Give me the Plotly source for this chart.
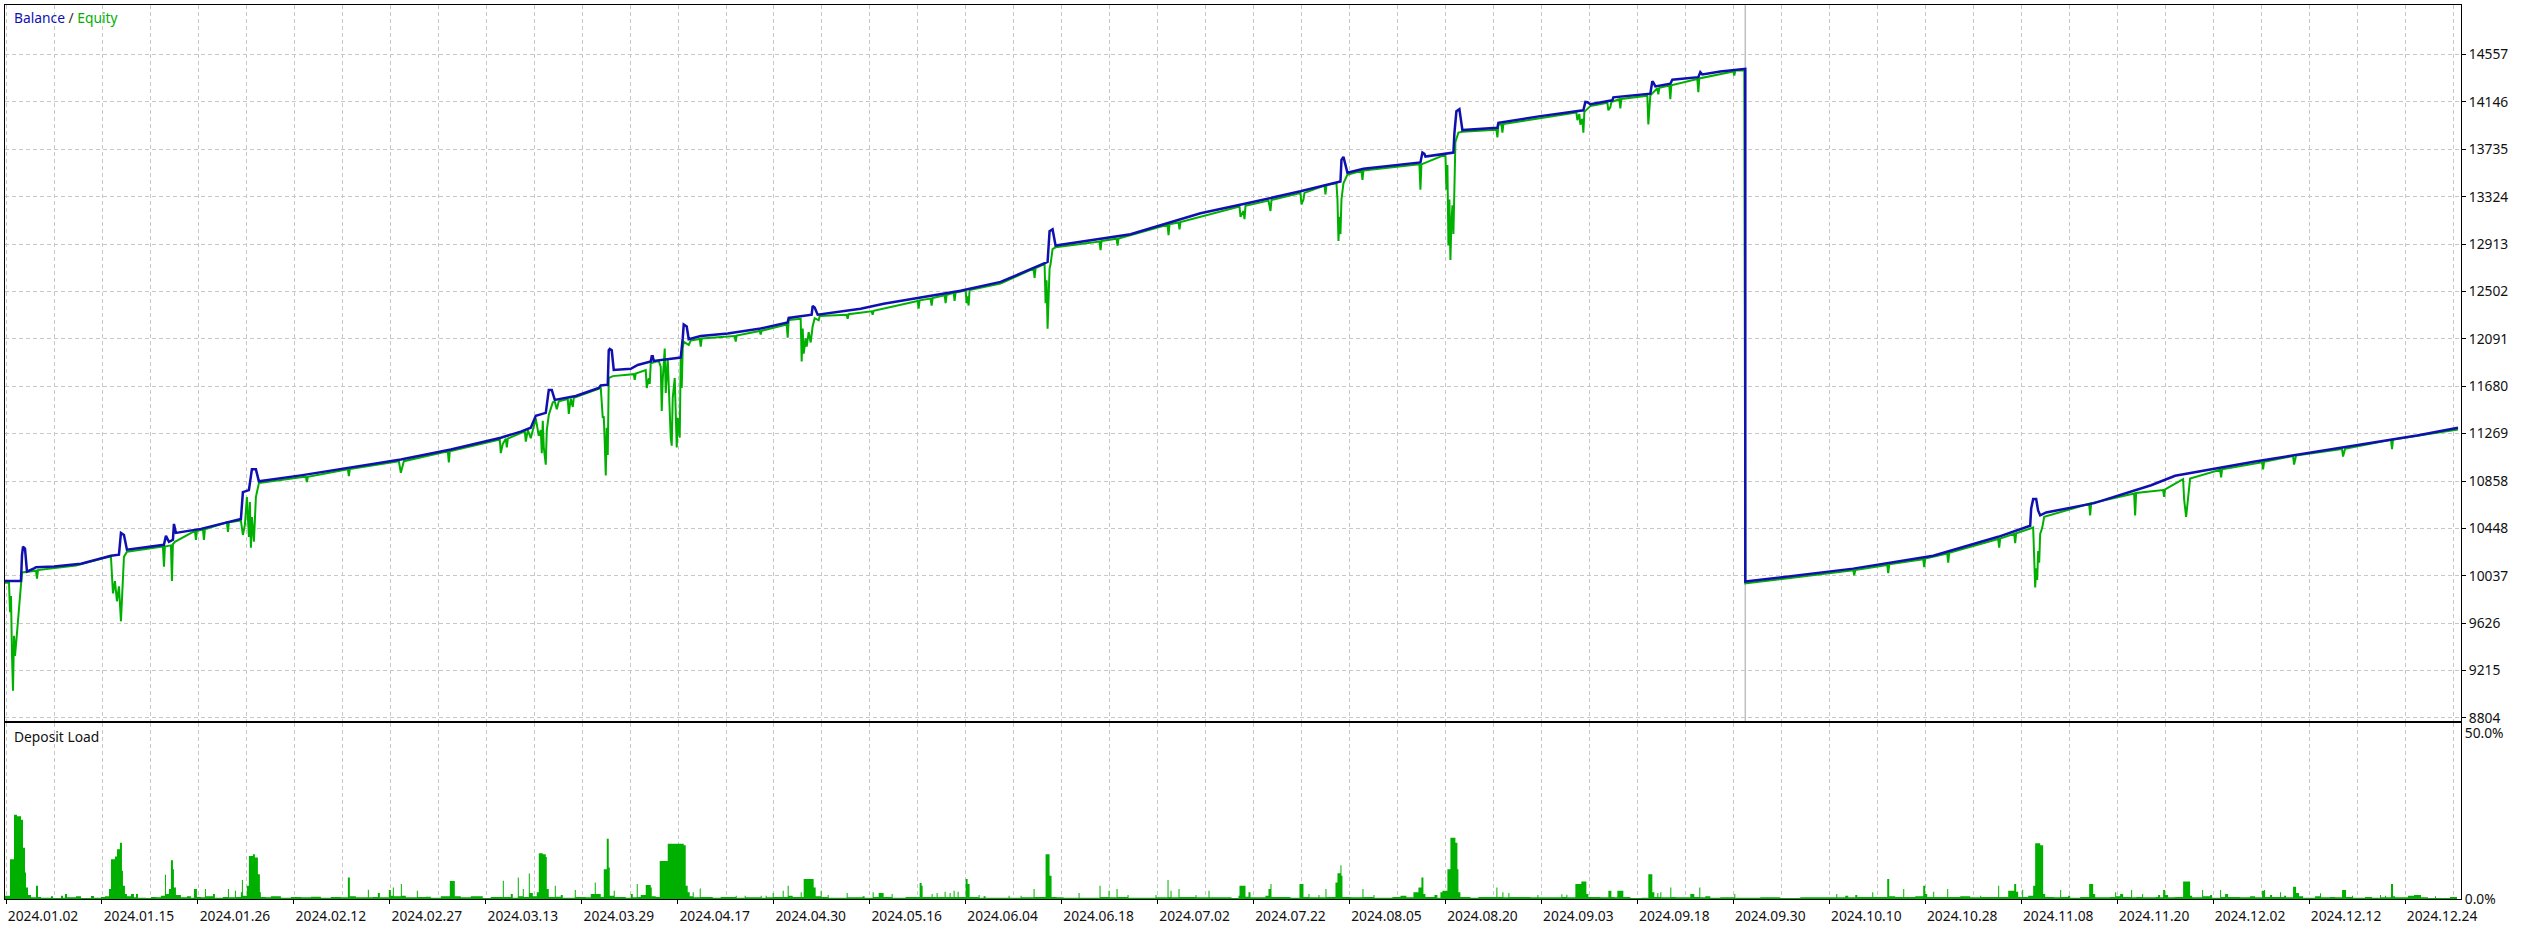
import plotly.graph_objects as go

# ---------------- data ----------------
# x axis: tester step index (dates are labels placed on it)
date_step = [5, 101, 197, 293, 389, 485, 581, 677, 773, 869, 965, 1061, 1157,
             1253, 1349, 1445, 1541, 1637, 1733, 1829, 1925, 2021, 2117, 2213, 2309, 2405]
date_text = ["2024.01.02", "2024.01.15", "2024.01.26", "2024.02.12", "2024.02.27",
             "2024.03.13", "2024.03.29", "2024.04.17", "2024.04.30", "2024.05.16",
             "2024.06.04", "2024.06.18", "2024.07.02", "2024.07.22", "2024.08.05",
             "2024.08.20", "2024.09.03", "2024.09.18", "2024.09.30", "2024.10.10",
             "2024.10.28", "2024.11.08", "2024.11.20", "2024.12.02", "2024.12.12",
             "2024.12.24"]

bal_ticks = [8804, 9215, 9626, 10037, 10448, 10858, 11269, 11680, 12091, 12502,
             12913, 13324, 13735, 14146, 14557]

balance_step = [4, 20, 21, 22, 24, 26, 33, 35, 53, 80, 110, 118, 120, 123, 126, 140, 163, 165,
                168, 172, 173, 175, 200, 240, 242, 248, 251, 255, 258, 300, 350, 400, 450, 500,
                520, 530, 535, 545, 548, 551, 554, 575, 598, 600, 607, 608, 609, 611, 613, 630,
                637, 650, 651, 652, 653, 680, 682, 683, 686, 688, 700, 727, 760, 787, 788, 811,
                812, 814, 817, 833, 860, 883, 913, 960, 1000, 1047, 1049, 1052, 1055, 1100, 1130,
                1160, 1200, 1250, 1300, 1340, 1341, 1343, 1345, 1347, 1363, 1390, 1420, 1422,
                1424, 1425, 1453, 1454, 1456, 1459, 1461, 1462, 1497, 1498, 1540, 1583, 1585,
                1587, 1590, 1612, 1613, 1650, 1652, 1653, 1655, 1670, 1672, 1698, 1700, 1702,
                1720, 1743, 1745, 1745, 1853, 1933, 1998, 2030, 2031, 2033, 2036, 2038, 2040,
                2046, 2094, 2151, 2175, 2255, 2336, 2417, 2458]
balance_val = [9990, 9990, 10213, 10288, 10272, 10073, 10101, 10110, 10116, 10141, 10210, 10219,
               10408, 10390, 10262, 10279, 10305, 10382, 10331, 10348, 10486, 10408, 10443, 10529,
               10762, 10779, 10959, 10959, 10856, 10907, 10976, 11045, 11131, 11234, 11286, 11320,
               11423, 11449, 11648, 11648, 11562, 11596, 11665, 11688, 11693, 11992, 12003, 11992,
               11822, 11831, 11865, 11894, 11940, 11940, 11900, 11929, 12095, 12215, 12198, 12089,
               12115, 12138, 12181, 12233, 12273, 12301, 12376, 12362, 12301, 12319, 12353, 12396,
               12439, 12508, 12585, 12758, 13025, 13042, 12900, 12955, 12998, 13076, 13180, 13274,
               13371, 13457, 13644, 13670, 13601, 13532, 13567, 13593, 13621, 13707, 13696, 13672,
               13707, 13876, 14065, 14083, 13945, 13902, 13922, 13965, 14023, 14074, 14146, 14143,
               14126, 14160, 14186, 14218, 14326, 14315, 14281, 14304, 14339, 14361, 14404, 14384,
               14410, 14433, 14433, 9986, 10098, 10210, 10374, 10470, 10620, 10701, 10701, 10600,
               10560, 10585, 10666, 10821, 10903, 11028, 11140, 11252, 11320]

equity_step = [4, 8, 9, 10, 11, 12, 13, 14, 16, 18, 19, 20, 21, 35, 36, 37, 75, 105, 110, 112, 114,
               116, 118, 120, 121, 123, 126, 160, 162, 163, 164, 170, 171, 172, 174, 194, 195, 196,
               202, 203, 204, 226, 227, 228, 240, 242, 244, 246, 248, 249, 250, 251, 253, 255, 258,
               300, 305, 306, 307, 347, 348, 349, 398, 400, 402, 403, 447, 448, 449, 499, 500, 502,
               505, 506, 507, 524, 525, 527, 530, 532, 535, 538, 540, 541, 542, 543, 545, 546, 548,
               552, 554, 556, 558, 567, 568, 570, 572, 573, 595, 600, 602, 603, 604, 605, 606, 607,
               608, 612, 633, 634, 635, 645, 646, 648, 649, 650, 658, 660, 661, 662, 664, 665, 667,
               669, 670, 671, 672, 674, 676, 677, 679, 680, 681, 682, 683, 688, 690, 699, 700, 701,
               734, 735, 736, 759, 760, 761, 786, 787, 788, 800, 801, 802, 803, 805, 806, 808, 810,
               812, 814, 818, 819, 846, 847, 848, 871, 872, 873, 917, 918, 919, 930, 931, 932, 944,
               945, 946, 953, 954, 955, 965, 966, 967, 968, 969, 1000, 1033, 1034, 1035, 1044, 1045,
               1046, 1047, 1048, 1049, 1050, 1052, 1055, 1099, 1100, 1101, 1116, 1117, 1118, 1167,
               1168, 1169, 1178, 1179, 1180, 1239, 1240, 1243, 1244, 1245, 1268, 1270, 1271, 1300,
               1301, 1303, 1304, 1324, 1325, 1326, 1336, 1337, 1338, 1339, 1340, 1341, 1343, 1347,
               1361, 1362, 1363, 1419, 1420, 1421, 1445, 1446, 1447, 1448, 1449, 1450, 1451, 1452,
               1453, 1454, 1455, 1458, 1462, 1496, 1497, 1498, 1501, 1502, 1503, 1576, 1577, 1579,
               1580, 1582, 1583, 1584, 1590, 1607, 1608, 1610, 1611, 1619, 1620, 1621, 1647, 1648,
               1649, 1650, 1657, 1658, 1659, 1669, 1670, 1671, 1697, 1698, 1699, 1733, 1734, 1735,
               1744, 1745, 1853, 1854, 1855, 1887, 1888, 1889, 1923, 1924, 1925, 1947, 1948, 1949,
               1998, 1999, 2000, 2014, 2015, 2016, 2033, 2034, 2035, 2036, 2037, 2038, 2039, 2040,
               2042, 2044, 2089, 2090, 2091, 2134, 2135, 2136, 2163, 2164, 2165, 2183, 2184, 2186,
               2188, 2190, 2220, 2221, 2222, 2262, 2263, 2264, 2293, 2294, 2296, 2342, 2343, 2345,
               2391, 2392, 2393, 2458]
equity_val = [9975, 9975, 9720, 9860, 9340, 9040, 9515, 9340, 9540, 9770, 9860, 9975, 10065, 10080,
              10012, 10085, 10125, 10195, 10200, 9883, 9990, 9815, 9945, 9641, 9860, 10200, 10245,
              10290, 10290, 10115, 10290, 10300, 9990, 10310, 10330, 10425, 10348, 10425, 10440,
              10348, 10440, 10500, 10417, 10500, 10515, 10390, 10480, 10719, 10373, 10676, 10280,
              10546, 10331, 10719, 10840, 10890, 10895, 10850, 10895, 10960, 10900, 10962, 11030,
              10930, 11000, 11030, 11115, 11020, 11117, 11218, 11100, 11180, 11225, 11150, 11226,
              11290, 11200, 11300, 11230, 11305, 11400, 11250, 11300, 11100, 11380, 11150, 11000,
              11300, 11430, 11540, 11545, 11480, 11550, 11570, 11440, 11575, 11500, 11580, 11650,
              11665, 11406, 11420, 11191, 10907, 11320, 11084, 11751, 11768, 11785, 11736, 11790,
              11820, 11665, 11750, 11700, 11880, 11900, 11850, 11466, 11742, 12007, 11622, 11920,
              11406, 11234, 11165, 11579, 11751, 11148, 11406, 11234, 11920, 11665, 12007, 12067,
              12037, 12077, 12090, 12024, 12095, 12115, 12067, 12120, 12160, 12130, 12162, 12215,
              12101, 12255, 12265, 11894, 12180, 11963, 12095, 12024, 12150, 12060, 12200, 12270,
              12252, 12290, 12300, 12265, 12305, 12330, 12300, 12335, 12420, 12353, 12425, 12440,
              12380, 12445, 12470, 12400, 12472, 12490, 12420, 12492, 12510, 12400, 12460, 12380,
              12515, 12570, 12700, 12620, 12705, 12740, 12400, 12600, 12180, 12500, 12700, 12740,
              12870, 12885, 12935, 12860, 12940, 12960, 12900, 12962, 13080, 12990, 13085, 13100,
              13040, 13105, 13240, 13150, 13200, 13130, 13245, 13290, 13200, 13295, 13355, 13257,
              13300, 13357, 13420, 13345, 13425, 13440, 13300, 12941, 13150, 13000, 13300, 13440,
              13515, 13550, 13471, 13552, 13605, 13385, 13605, 13690, 13385, 13600, 12900, 13300,
              12775, 13100, 13250, 13000, 13500, 13800, 13880, 13887, 13905, 13839, 13950, 13952,
              13880, 13955, 14055, 13988, 14040, 13950, 14000, 13879, 14060, 14110, 14140, 14074,
              14100, 14145, 14170, 14090, 14172, 14200, 13951, 14100, 14203, 14265, 14212, 14268,
              14288, 14169, 14290, 14345, 14230, 14350, 14410, 14376, 14418, 14418, 9970, 10083,
              10040, 10085, 10130, 10060, 10135, 10180, 10110, 10185, 10230, 10150, 10235, 10355,
              10280, 10360, 10400, 10320, 10405, 10455, 10200, 9935, 10100, 10000, 10250, 10150,
              10400, 10450, 10548, 10660, 10560, 10665, 10750, 10560, 10755, 10780, 10720, 10785,
              10875, 10700, 10546, 10750, 10880, 10955, 10890, 10960, 11020, 10960, 11025, 11075,
              11000, 11080, 11135, 11070, 11138, 11215, 11134, 11218, 11305]

load_step = [4, 9, 13, 16, 20, 22, 24, 25, 27, 30, 35, 37, 40, 50, 52, 60, 62, 64, 66, 75, 80, 90,
             93, 100, 104, 108, 110, 114, 116, 119, 121, 122, 124, 126, 130, 133, 135, 137, 145,
             150, 155, 160, 164, 165, 168, 170, 172, 173, 175, 180, 186, 190, 193, 196, 200, 204,
             205, 212, 214, 222, 227, 228, 234, 235, 240, 241, 242, 246, 248, 252, 254, 257, 259,
             260, 265, 270, 280, 290, 300, 310, 320, 330, 340, 347, 349, 355, 367, 368, 372, 377,
             379, 388, 390, 392, 393, 400, 401, 405, 416, 417, 425, 430, 440, 449, 454, 460, 470,
             482, 490, 502, 503, 510, 512, 517, 518, 522, 523, 528, 529, 532, 536, 538, 542, 545,
             546, 548, 554, 555, 560, 562, 574, 575, 585, 590, 594, 595, 600, 603, 606, 608, 609,
             613, 614, 625, 630, 632, 636, 637, 640, 645, 650, 651, 655, 659, 667, 683, 685, 687,
             689, 692, 693, 699, 700, 712, 720, 735, 736, 744, 745, 760, 761, 765, 766, 772, 773,
             782, 783, 787, 788, 792, 800, 801, 803, 813, 815, 820, 821, 827, 828, 846, 847, 862,
             864, 872, 873, 878, 883, 891, 892, 905, 919, 921, 922, 931, 932, 936, 937, 944, 945,
             949, 950, 953, 954, 957, 958, 965, 967, 969, 978, 979, 983, 985, 1008, 1009, 1020,
             1021, 1033, 1034, 1045, 1049, 1051, 1056, 1063, 1078, 1079, 1099, 1100, 1108, 1109,
             1116, 1117, 1127, 1128, 1155, 1156, 1167, 1168, 1170, 1171, 1178, 1179, 1195, 1196,
             1208, 1209, 1231, 1238, 1239, 1245, 1248, 1250, 1265, 1268, 1270, 1271, 1290, 1299,
             1303, 1308, 1309, 1318, 1319, 1325, 1326, 1335, 1337, 1340, 1341, 1342, 1350, 1362,
             1363, 1373, 1374, 1392, 1400, 1406, 1413, 1418, 1421, 1423, 1425, 1434, 1437, 1440,
             1442, 1445, 1447, 1450, 1455, 1457, 1458, 1460, 1470, 1478, 1496, 1497, 1502, 1503,
             1508, 1509, 1530, 1537, 1538, 1561, 1562, 1566, 1567, 1575, 1581, 1586, 1588, 1600,
             1608, 1611, 1614, 1617, 1623, 1630, 1641, 1648, 1652, 1654, 1657, 1658, 1660, 1661,
             1670, 1671, 1675, 1690, 1694, 1699, 1700, 1705, 1710, 1720, 1734, 1735, 1760, 1780,
             1800, 1836, 1837, 1845, 1848, 1855, 1857, 1872, 1873, 1887, 1889, 1895, 1903, 1904,
             1915, 1923, 1925, 1927, 1933, 1934, 1947, 1948, 1960, 1970, 1980, 1981, 1998, 1999,
             2008, 2014, 2016, 2018, 2022, 2023, 2028, 2033, 2035, 2040, 2043, 2045, 2054, 2060,
             2061, 2068, 2070, 2080, 2089, 2093, 2095, 2110, 2115, 2116, 2120, 2123, 2131, 2132,
             2136, 2142, 2143, 2156, 2158, 2160, 2163, 2165, 2168, 2175, 2183, 2190, 2192, 2202,
             2203, 2210, 2212, 2220, 2221, 2225, 2228, 2240, 2250, 2255, 2262, 2264, 2265, 2270,
             2272, 2280, 2281, 2284, 2286, 2293, 2296, 2299, 2303, 2315, 2320, 2321, 2330, 2335,
             2342, 2346, 2352, 2353, 2365, 2372, 2380, 2381, 2385, 2386, 2391, 2393, 2395, 2408,
             2414, 2421, 2428, 2435, 2436, 2450, 2457]
load_pct = [1.0, 12, 25.4, 25, 23.9, 15.5, 8, 3.5, 1.2, 0.5, 4, 0.6, 0.4, 0.8, 0.3, 1.0, 0.4, 1.5,
            0.5, 0.8, 0.3, 0.9, 0.4, 0.6, 0.8, 3, 12, 12.8, 15, 17, 8.5, 4, 1.5, 0.8, 1.5, 0.5, 1.5,
            0.4, 0.3, 0.6, 0.5, 1, 7.3, 1.5, 3, 11.7, 9, 3.5, 1.2, 0.5, 0.8, 0.4, 3, 0.6, 0.5, 3,
            0.8, 1.5, 0.4, 0.6, 3, 0.5, 2.5, 0.6, 2, 5.7, 1, 4, 13, 13.5, 12.5, 7.5, 2, 0.6, 0.5,
            0.8, 0.4, 0.6, 0.5, 0.7, 0.4, 0.6, 0.5, 6.5, 0.8, 0.5, 2.8, 0.5, 0.6, 1.8, 0.5, 2.7, 1,
            3.5, 0.8, 4.5, 1, 0.5, 2.5, 0.6, 0.7, 0.4, 0.8, 5.4, 0.8, 0.5, 0.8, 0.3, 0.6, 5.5, 0.6,
            1.5, 0.4, 6.5, 0.8, 3, 0.6, 7.7, 1.8, 0.8, 2, 13.8, 13.5, 12.7, 3, 0.6, 4, 0.7, 1.2,
            0.4, 2.7, 0.6, 0.5, 1.5, 5, 1.5, 0.6, 9, 18.2, 9.5, 1, 2.5, 0.6, 0.4, 1.5, 0.5, 4.5,
            0.6, 1.2, 4.2, 3.5, 0.8, 0.6, 11.5, 16.7, 16.2, 4, 2, 0.8, 2, 0.5, 3.2, 0.6, 0.4, 0.6,
            1, 0.4, 1, 0.5, 1, 0.4, 1, 0.5, 1.8, 0.6, 2.5, 0.6, 4, 1, 0.6, 2, 0.6, 6, 3.5, 0.8, 2.5,
            0.6, 1.2, 0.4, 1.8, 0.5, 0.8, 0.4, 2, 0.6, 1.8, 0.6, 1.5, 0.4, 0.6, 4.8, 4, 0.6, 1.5,
            0.6, 1.8, 0.6, 2.2, 0.6, 1.8, 0.6, 2.5, 0.6, 2.2, 0.6, 6, 4.5, 0.6, 1.2, 0.4, 0.8, 0.4,
            1, 0.4, 1, 0.5, 3, 0.6, 13.5, 7, 0.6, 0.5, 0.4, 1.8, 0.4, 4, 0.6, 2.5, 0.5, 3, 0.6,
            1.2, 0.4, 1.2, 0.5, 5.7, 0.6, 2.5, 0.5, 3, 0.6, 1.2, 0.5, 2.5, 0.5, 0.3, 1, 4, 0.7, 2,
            0.5, 1, 3, 4.5, 0.6, 0.4, 4.5, 0.6, 1.5, 0.5, 1.2, 0.5, 3, 0.6, 5, 7.8, 10.2, 7, 0.6,
            0.5, 3, 0.6, 1.2, 0.4, 0.6, 1, 0.5, 2, 3.5, 6.5, 1.5, 0.6, 1.2, 0.4, 2, 2.5, 2.5, 9,
            18.5, 17, 9, 2, 0.6, 0.4, 0.6, 3.5, 0.6, 2, 0.5, 1.8, 0.6, 0.5, 1.2, 0.5, 1.4, 0.6,
            1.3, 0.5, 4.5, 5.3, 1.5, 0.6, 0.5, 2.5, 0.6, 0.5, 2.5, 0.6, 0.3, 0.4, 7.5, 2, 0.6,
            1.8, 0.6, 2, 0.5, 3.5, 0.6, 0.5, 1.5, 0.6, 3.5, 0.5, 0.8, 0.4, 0.5, 1.5, 0.4, 0.5, 0.3,
            0.5, 1.5, 0.5, 1, 0.5, 1.2, 0.6, 2, 0.6, 6, 0.8, 0.6, 3, 0.6, 0.8, 4, 1.5, 0.6, 2.2,
            0.6, 3, 0.6, 0.8, 0.5, 1, 0.6, 4, 0.6, 2.5, 4.5, 2.2, 0.6, 2.8, 0.6, 1, 4, 16.8, 16.2,
            1.5, 0.6, 0.5, 2.7, 0.6, 1, 0.4, 0.6, 4.5, 1.5, 0.5, 0.6, 2, 0.8, 1.5, 0.6, 2.7, 0.5,
            0.6, 1.5, 0.5, 0.6, 1.2, 0.5, 2.7, 1.2, 0.5, 0.6, 5.3, 1, 0.5, 2.7, 0.8, 1.2, 0.4, 2.7,
            0.6, 1.5, 0.6, 0.5, 0.8, 0.5, 2.5, 2.7, 0.6, 1.2, 0.6, 2, 0.6, 1, 0.5, 3.7, 1.8, 0.8,
            0.4, 0.8, 1.7, 0.5, 0.6, 0.5, 2.7, 0.6, 1, 0.4, 0.6, 0.4, 1.2, 0.5, 1, 0.5, 4.5, 0.8,
            0.5, 1, 1.2, 0.5, 0.3, 0.8, 0.3, 0.6, 0.3]

forward_start = 1745

# ---------------- styles ----------------
BLUE = "#1010B0"
GREEN = "#00B000"
GRID = "#C8C8C8"
FONT = "Noto Sans"
FS = 13.8

fig = go.Figure()
fig.add_trace(go.Scatter(x=equity_step, y=equity_val, mode="lines",
                         line=dict(color=GREEN, width=2), xaxis="x", yaxis="y",
                         hoverinfo="skip"))
fig.add_trace(go.Scatter(x=balance_step, y=balance_val, mode="lines",
                         line=dict(color=BLUE, width=2.5), xaxis="x", yaxis="y",
                         hoverinfo="skip"))
fig.add_trace(go.Scatter(x=load_step, y=load_pct, mode="lines",
                         line=dict(color=GREEN, width=0, shape="hv"),
                         fill="tozeroy", fillcolor=GREEN, xaxis="x2", yaxis="y2",
                         hoverinfo="skip"))

grid_common = dict(showgrid=True, gridcolor=GRID, griddash="4px,3px", gridwidth=1)
line_common = dict(showline=True, linecolor="black", linewidth=1, mirror=True, zeroline=False)

fig.update_layout(
    width=2526, height=929,
    margin=dict(l=4, r=65, t=4, b=24),
    paper_bgcolor="white", plot_bgcolor="white",
    showlegend=False,
    font=dict(family=FONT, size=FS, color="#111111"),
    xaxis=dict(domain=[0, 1], range=[4, 2461], anchor="y",
               tickmode="linear", tick0=5.3, dtick=48, showticklabels=False, ticks="",
               **grid_common, **line_common),
    yaxis=dict(domain=[0.19867, 1], range=[8773, 14987], side="right", anchor="x",
               tickvals=bal_ticks, ticktext=[str(v) for v in bal_ticks],
               ticks="outside", ticklen=4, tickcolor="black",
               **grid_common, **line_common),
    xaxis2=dict(domain=[0, 1], range=[4, 2461], anchor="y2",
                tickvals=date_step, ticktext=date_text, ticks="outside", ticklen=4,
                tickcolor="black", ticklabelshift=37, showgrid=False,
                minor=dict(tick0=5.3, dtick=48, showgrid=True, gridcolor=GRID,
                           griddash="4px,3px", gridwidth=1, ticks=""),
                **line_common),
    yaxis2=dict(domain=[0, 0.19645], range=[0, 53], side="right", anchor="x2",
                tickvals=[0, 50], ticktext=["0.0%", "50.0%"], ticks="",
                showgrid=False, **line_common),
)

fig.add_shape(type="line", xref="x", yref="y domain", x0=forward_start, x1=forward_start,
              y0=0, y1=1, line=dict(color="#C0C0C0", width=1.5), layer="below")

fig.add_annotation(xref="paper", yref="paper", x=0.0027, y=0.9859, xanchor="left",
                   yanchor="middle", showarrow=False,
                   text=f'<span style="color:{BLUE}">Balance</span>'
                        f'<span style="color:#3a2a10"> / </span>'
                        f'<span style="color:{GREEN}">Equity</span>',
                   font=dict(family=FONT, size=FS))
fig.add_annotation(xref="paper", yref="paper", x=0.0027, y=0.182, xanchor="left",
                   yanchor="middle", showarrow=False, text="Deposit Load",
                   font=dict(family=FONT, size=FS, color="#111111"))

fig.write_html("out.html",
               config={"displayModeBar": False},
               post_script="document.body.style.margin='0px';"
                           "document.documentElement.style.margin='0px';"
                           "document.body.style.overflow='hidden';")
